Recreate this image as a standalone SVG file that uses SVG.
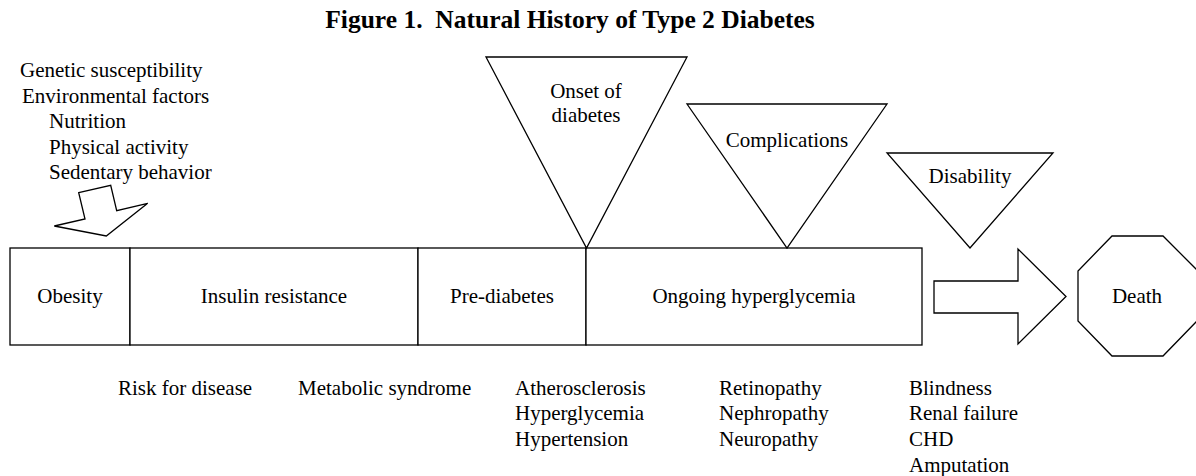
<svg xmlns="http://www.w3.org/2000/svg" width="1196" height="476" viewBox="0 0 1196 476">
<style>
text{font-family:"Liberation Serif","Times New Roman",serif;font-size:21px;fill:#000}
.c{text-anchor:middle}
.t{font-weight:bold;font-size:25.5px}
.s{fill:#fff;stroke:#000;stroke-width:1.3;stroke-linejoin:miter}
</style>
<rect width="1196" height="476" fill="#fff"/>
<text id="title" class="t c" x="570" y="28" xml:space="preserve">Figure 1.  Natural History of Type 2 Diabetes</text>
<g id="factors">
<text x="20" y="77">Genetic susceptibility</text>
<text x="22" y="103">Environmental factors</text>
<text x="49" y="128">Nutrition</text>
<text x="49" y="154">Physical activity</text>
<text x="49" y="179">Sedentary behavior</text>
</g>
<g id="connectors">
<polygon class="s" points="78.7,192.7 110.7,185.3 116.7,210.7 147.7,203.3 106.3,236 54.3,226 85,219"/>
<polygon class="s" points="934,281 1018,281 1018,249 1066,296.5 1018,344 1018,313 934,313"/>
</g>
<g id="obesity">
<rect class="s" x="10" y="248" width="120" height="97"/>
<text class="c" x="70" y="303">Obesity</text>
</g>
<g id="insulin-resistance">
<rect class="s" x="130" y="248" width="288" height="97"/>
<text class="c" x="274" y="303">Insulin resistance</text>
</g>
<g id="pre-diabetes">
<rect class="s" x="418" y="248" width="168" height="97"/>
<text class="c" x="502" y="303">Pre-diabetes</text>
</g>
<g id="ongoing-hyperglycemia">
<rect class="s" x="586" y="248" width="336" height="97"/>
<text class="c" x="754" y="303">Ongoing hyperglycemia</text>
</g>
<g id="onset">
<polygon class="s" points="486,57 687,57 586.5,248"/>
<text class="c" x="586" y="98">Onset of</text>
<text class="c" x="586" y="122">diabetes</text>
</g>
<g id="complications">
<polygon class="s" points="687,104 887,104 787,248"/>
<text class="c" x="787" y="147">Complications</text>
</g>
<g id="disability">
<polygon class="s" points="887,153 1053,153 970,248"/>
<text class="c" x="970" y="183">Disability</text>
</g>
<g id="death">
<polygon class="s" points="1112,236 1163,236 1197,270 1197,321 1163,356 1112,356 1078,321 1078,271"/>
<text class="c" x="1137" y="303">Death</text>
</g>
<g id="outcomes">
<text x="118" y="395">Risk for disease</text>
<text x="298" y="395">Metabolic syndrome</text>
<text x="515" y="395">Atherosclerosis</text>
<text x="515" y="420">Hyperglycemia</text>
<text x="515" y="446">Hypertension</text>
<text x="719" y="395">Retinopathy</text>
<text x="719" y="420">Nephropathy</text>
<text x="719" y="446">Neuropathy</text>
<text x="909" y="395">Blindness</text>
<text x="909" y="420">Renal failure</text>
<text x="909" y="446">CHD</text>
<text x="909" y="472">Amputation</text>
</g>
</svg>
